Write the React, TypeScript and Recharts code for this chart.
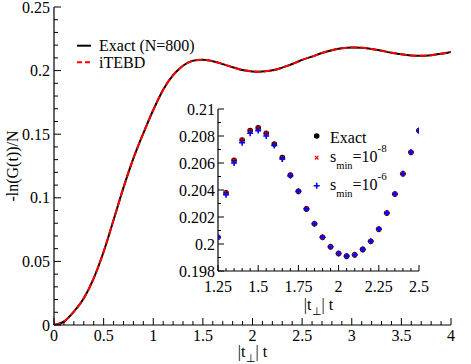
import React from "react";
import { LineChart, Line, XAxis, YAxis, Legend, ScatterChart, Scatter } from "recharts";

const FONT = "Liberation Serif";

// main panel: -ln(G(t))/N against |t_perp| t
const tVals = [
  0, 0.1, 0.2, 0.3, 0.4, 0.5, 0.6, 0.7, 0.8, 0.9, 1.0, 1.1, 1.2,
  1.25, 1.3, 1.35, 1.4, 1.45, 1.5, 1.55, 1.6, 1.65, 1.7, 1.75, 1.8, 1.85, 1.9, 1.95,
  2.0, 2.05, 2.1, 2.15, 2.2, 2.25, 2.3, 2.35, 2.4, 2.45, 2.5,
  2.6, 2.7, 2.8, 2.9, 3.0, 3.1, 3.2, 3.3, 3.4, 3.5, 3.6, 3.7, 3.8, 3.9, 4.0,
];
const exactVals = [
  0, 0.0027, 0.0105, 0.021, 0.0367, 0.0576, 0.0825, 0.108, 0.131, 0.1507, 0.169, 0.185, 0.1965,
  0.2005, 0.2038, 0.2062, 0.2077, 0.2084, 0.2086, 0.2082, 0.2074, 0.2064, 0.2051, 0.2039, 0.2026, 0.2015, 0.2005, 0.1998,
  0.1993, 0.1991, 0.1992, 0.1996, 0.2002, 0.2011, 0.2023, 0.2037, 0.2052, 0.2068, 0.2084,
  0.211, 0.2138, 0.216, 0.2175, 0.2182, 0.218, 0.217, 0.2156, 0.2141, 0.2128, 0.2119, 0.2116, 0.2121, 0.2132, 0.2147,
];
// iTEBD lies on top of the exact curve at this scale
const itebdVals = exactVals;
const mainNames = ["Exact (N=800)", "iTEBD"];

const mainXMajor = [0, 0.5, 1, 1.5, 2, 2.5, 3, 3.5, 4];
const mainYMajor = [0, 0.05, 0.1, 0.15, 0.2, 0.25];

// inset
const insetT = [
  1.25, 1.3, 1.35, 1.4, 1.45, 1.5, 1.55, 1.6, 1.65, 1.7, 1.75, 1.8, 1.85,
  1.9, 1.95, 2.0, 2.05, 2.1, 2.15, 2.2, 2.25, 2.3, 2.35, 2.4, 2.45, 2.5,
];
const insetExact = [
  0.2005, 0.2038, 0.2062, 0.2077, 0.2084, 0.2086, 0.2082, 0.2074, 0.2064, 0.2051, 0.2039, 0.2026, 0.2015,
  0.2005, 0.1998, 0.1993, 0.1991, 0.1992, 0.1996, 0.2002, 0.2011, 0.2023, 0.2037, 0.2052, 0.2068, 0.2084,
];
const insetS8 = [
  0.2005, 0.2038, 0.2062, 0.2077, 0.2084, 0.2086, 0.2082, 0.2074, 0.2064, 0.2051, 0.2039, 0.2026, 0.2015,
  0.2005, 0.1998, 0.1993, 0.1991, 0.1992, 0.1996, 0.2002, 0.2011, 0.2023, 0.2037, 0.2052, 0.2068, 0.2084,
];
const insetS6 = [
  0.2005, 0.20365, 0.206, 0.2075, 0.2082, 0.2084, 0.208, 0.2073, 0.2063, 0.20505, 0.2039, 0.2026, 0.2015,
  0.2005, 0.1998, 0.1993, 0.1991, 0.1992, 0.1996, 0.2002, 0.2011, 0.2023, 0.2037, 0.2052, 0.2068, 0.2084,
];
const insetNames = ["Exact", "s_min=10^-8", "s_min=10^-6"];
const insetXMajor = [1.25, 1.5, 1.75, 2, 2.25, 2.5];
const insetYMajor = [0.198, 0.2, 0.202, 0.204, 0.206, 0.208, 0.21];

function steps(from: number, to: number, step: number) {
  const out: number[] = [];
  const n = Math.round((to - from) / step);
  for (let i = 0; i <= n; i++) out.push(Math.round((from + i * step) * 1e6) / 1e6);
  return out;
}

const mainXTicks = steps(0, 4, 0.1);
const mainYTicks = steps(0, 0.25, 0.01);
const insetXTicks = steps(1.25, 2.5, 0.05);
const insetYTicks = steps(0.198, 0.21, 0.001);

const mainData = tVals.map((t, i) => ({ t, exact: exactVals[i], itebd: itebdVals[i] }));
const exactPts = insetT.map((x, i) => ({ x, y: insetExact[i] }));
const s8Pts = insetT.map((x, i) => ({ x, y: insetS8[i] }));
const s6Pts = insetT.map((x, i) => ({ x, y: insetS6[i] }));

const txt = { fontFamily: FONT, fontSize: 16 };

// xmgrace-like inward ticks, labels only on major ticks
function GraceTick(props: any) {
  const { x, y, payload, side, majors, big, small, gap } = props;
  const v = payload.value;
  const isMajor = majors.some((m: number) => Math.abs(m - v) < 1e-9);
  const len = isMajor ? big : small;
  let x2 = x;
  let y2 = y;
  if (side === "bottom") y2 = y - len;
  else if (side === "top") y2 = y + len;
  else if (side === "left") x2 = x + len;
  else x2 = x - len;
  return (
    <g>
      <line x1={x} y1={y} x2={x2} y2={y2} stroke="#000" strokeWidth={1} />
      {isMajor && side === "bottom" && (
        <text x={x} y={y + gap} textAnchor="middle" style={txt} fill="#000">
          {String(v)}
        </text>
      )}
      {isMajor && side === "left" && (
        <text x={x - gap} y={y + 5.5} textAnchor="end" style={txt} fill="#000">
          {String(v)}
        </text>
      )}
    </g>
  );
}

function TPerpTitle({ cx, y }: { cx: number; y: number }) {
  return (
    <text x={cx} y={y} textAnchor="middle" style={txt} fill="#000">
      |t
      <tspan style={{ fontSize: 11 }} dy={5}>⊥</tspan>
      <tspan dy={-5}>| t</tspan>
    </text>
  );
}

const lineStyles = [
  { color: "#000", dash: undefined as string | undefined },
  { color: "#ff0000", dash: "5 3" },
];

function MainLegend(props: any) {
  const items = (props.payload || []).filter((p: any) => p.type !== "none");
  return (
    <svg width={150} height={40}>
      {items.map((_it: any, i: number) => {
        const st = lineStyles[i] || { color: "#000" };
        return (
          <g key={i}>
            <line x1={7} x2={21} y1={10.7 + i * 16.6} y2={10.7 + i * 16.6} stroke={st.color} strokeWidth={2} strokeDasharray={st.dash} />
            <text x={29} y={16 + i * 16.6} style={txt} fill="#000">
              {mainNames[i]}
            </text>
          </g>
        );
      })}
    </svg>
  );
}

function Dot(p: any) {
  return <circle cx={p.cx} cy={p.cy} r={2.8} fill="#000" />;
}
function Cross(p: any) {
  const d = 1.8;
  return (
    <path d={`M${p.cx - d},${p.cy - d}L${p.cx + d},${p.cy + d}M${p.cx - d},${p.cy + d}L${p.cx + d},${p.cy - d}`} stroke="#ff0000" strokeWidth={1.2} fill="none" />
  );
}
function Plus(p: any) {
  const d = 3;
  return (
    <path d={`M${p.cx - d},${p.cy}L${p.cx + d},${p.cy}M${p.cx},${p.cy - d}L${p.cx},${p.cy + d}`} stroke="#0000ff" strokeWidth={1.6} fill="none" />
  );
}

function InsetLegend(props: any) {
  const items = (props.payload || []).filter((p: any) => p.type !== "none");
  const rows = [11, 32.7, 60.7];
  const base = [18, 36.7, 65];
  return (
    <svg width={120} height={80}>
      {items.slice(0, 3).map((_it: any, i: number) => {
        const name = insetNames[i];
        const my = rows[i];
        const marker =
          i === 0 ? <Dot cx={6.7} cy={my} /> : i === 1 ? <Cross cx={6.7} cy={my} /> : <Plus cx={6.7} cy={my} />;
        let label: React.ReactNode = name;
        const m = name.match(/^s_min=10\^(.*)$/);
        if (m) {
          label = (
            <>
              s<tspan style={{ fontSize: 10.5 }} dy={7}>min</tspan>
              <tspan dy={-7}>=10</tspan>
              <tspan style={{ fontSize: 11 }} dy={-10}>{m[1]}</tspan>
            </>
          );
        }
        return (
          <g key={i}>
            {marker}
            <text x={20} y={base[i]} style={txt} fill="#000">
              {label}
            </text>
          </g>
        );
      })}
    </svg>
  );
}

export default function App() {
  return (
    <div style={{ position: "absolute", left: 0, top: 0, width: 471, height: 364, background: "#fff", fontFamily: FONT }}>
      <LineChart width={471} height={364} data={mainData} margin={{ top: 7, right: 20, bottom: 0, left: 0 }} style={{ fontFamily: FONT }}>
        <XAxis
          dataKey="t"
          type="number"
          domain={[0, 4]}
          ticks={mainXTicks}
          interval={0}
          height={39}
          tickSize={0}
          tickMargin={0}
          tickLine={false}
          axisLine={{ stroke: "#000", strokeWidth: 1.2 }}
          tick={<GraceTick side="bottom" majors={mainXMajor} big={7} small={4} gap={16} />}
          allowDataOverflow
          label={(p: any) => {
            const vb = p.viewBox || { x: 54, y: 325, width: 397 };
            return <TPerpTitle cx={vb.x + vb.width / 2} y={vb.y + 32} />;
          }}
        />
        <XAxis
          xAxisId="top"
          orientation="top"
          dataKey="t"
          type="number"
          domain={[0, 4]}
          ticks={mainXTicks}
          interval={0}
          height={0}
          tickSize={0}
          tickMargin={0}
          tickLine={false}
          axisLine={{ stroke: "#000", strokeWidth: 1.2 }}
          tick={<GraceTick side="top" majors={mainXMajor} big={7} small={4} gap={0} />}
          allowDataOverflow
        />
        <YAxis
          type="number"
          domain={[0, 0.25]}
          ticks={mainYTicks}
          interval={0}
          width={54}
          tickSize={0}
          tickMargin={0}
          tickLine={false}
          axisLine={{ stroke: "#000", strokeWidth: 1.2 }}
          tick={<GraceTick side="left" majors={mainYMajor} big={7} small={4} gap={4} />}
          allowDataOverflow
          label={(p: any) => {
            const vb = p.viewBox || { x: 0, y: 7, height: 318 };
            const cx = vb.x + 17.5;
            const cy = vb.y + vb.height / 2;
            return (
              <text x={cx} y={cy} transform={`rotate(-90 ${cx} ${cy})`} textAnchor="middle" style={txt} fill="#000">
                -ln(G(t))/N
              </text>
            );
          }}
        />
        <YAxis
          yAxisId="right"
          orientation="right"
          type="number"
          domain={[0, 0.25]}
          ticks={mainYTicks}
          interval={0}
          width={0}
          tickSize={0}
          tickMargin={0}
          tickLine={false}
          axisLine={{ stroke: "#000", strokeWidth: 1.2 }}
          tick={<GraceTick side="right" majors={mainYMajor} big={7} small={4} gap={0} />}
          allowDataOverflow
        />
        <Legend
          layout="horizontal"
          verticalAlign="middle"
          align="center"
          content={<MainLegend />}
          wrapperStyle={{ left: 70, top: 35, width: 150, height: 40 }}
        />
        <Line
          xAxisId="top"
          yAxisId="right"
          dataKey="exact"
          stroke="none"
          dot={false}
          legendType="none"
          isAnimationActive={false}
        />
        <Line type="monotone" dataKey="exact" name={mainNames[0]} stroke="#000" strokeWidth={2} dot={false} isAnimationActive={false} />
        <Line type="monotone" dataKey="itebd" name={mainNames[1]} stroke="#ff0000" strokeWidth={2} strokeDasharray="7 3" dot={false} isAnimationActive={false} />
      </LineChart>

      <div style={{ position: "absolute", left: 160, top: 100 }}>
        <ScatterChart width={270} height={225} margin={{ top: 9, right: 11, bottom: 0, left: 0 }} style={{ fontFamily: FONT }}>
          <XAxis
            dataKey="x"
            type="number"
            domain={[1.25, 2.5]}
            ticks={insetXTicks}
            interval={0}
            height={54}
            tickSize={0}
            tickMargin={0}
            tickLine={false}
            axisLine={{ stroke: "#000", strokeWidth: 1.2 }}
            tick={<GraceTick side="bottom" majors={insetXMajor} big={6} small={3} gap={21} />}
            allowDataOverflow
            label={(p: any) => {
              const vb = p.viewBox || { x: 58, y: 171, width: 201 };
              return <TPerpTitle cx={vb.x + vb.width / 2} y={vb.y + 39} />;
            }}
          />
          <XAxis
            xAxisId="top"
            orientation="top"
            dataKey="x"
            type="number"
            domain={[1.25, 2.5]}
            ticks={insetXTicks}
            interval={0}
            height={0}
            tickSize={0}
            tickMargin={0}
            tickLine={false}
            axisLine={{ stroke: "#000", strokeWidth: 1.2 }}
            tick={<GraceTick side="top" majors={insetXMajor} big={6} small={3} gap={0} />}
            allowDataOverflow
          />
          <YAxis
            dataKey="y"
            type="number"
            domain={[0.198, 0.21]}
            ticks={insetYTicks}
            interval={0}
            width={58}
            tickSize={0}
            tickMargin={0}
            tickLine={false}
            axisLine={{ stroke: "#000", strokeWidth: 1.2 }}
            tick={<GraceTick side="left" majors={insetYMajor} big={6} small={3} gap={3} />}
            allowDataOverflow
          />
          <YAxis
            yAxisId="right"
            orientation="right"
            dataKey="y"
            type="number"
            domain={[0.198, 0.21]}
            ticks={insetYTicks}
            interval={0}
            width={0}
            tickSize={0}
            tickMargin={0}
            tickLine={false}
            axisLine={{ stroke: "#000", strokeWidth: 1.2 }}
            tick={<GraceTick side="right" majors={insetYMajor} big={6} small={3} gap={0} />}
            allowDataOverflow
          />
          <Legend
            layout="horizontal"
            verticalAlign="middle"
            align="center"
            content={<InsetLegend />}
            wrapperStyle={{ left: 150, top: 25, width: 120, height: 80 }}
          />
          <Scatter xAxisId="top" yAxisId="right" data={exactPts} shape={() => <g />} legendType="none" isAnimationActive={false} />
          <Scatter name={insetNames[0]} data={exactPts} shape={Dot} isAnimationActive={false} />
          <Scatter name={insetNames[1]} data={s8Pts} shape={Cross} isAnimationActive={false} />
          <Scatter name={insetNames[2]} data={s6Pts} shape={Plus} isAnimationActive={false} />
        </ScatterChart>
      </div>
    </div>
  );
}
